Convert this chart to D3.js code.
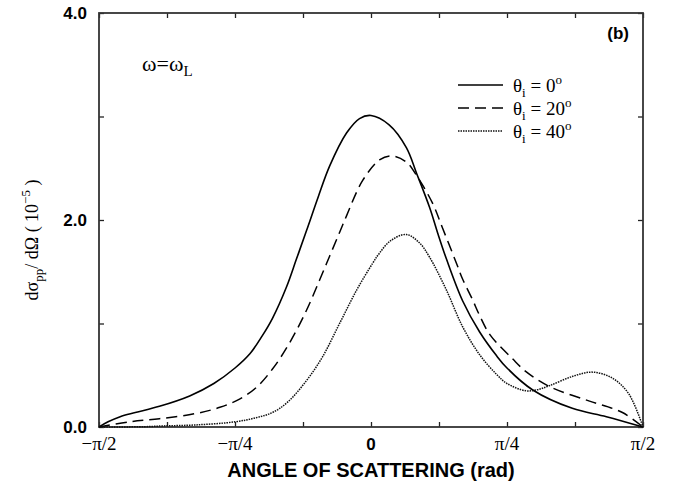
<!DOCTYPE html>
<html>
<head>
<meta charset="utf-8">
<script src="https://cdn.jsdelivr.net/npm/d3@7"></script>
<style>
  html, body { margin: 0; padding: 0; background: #fff; }
  svg { display: block; }
</style>
</head>
<body>
<svg id="chart" width="677" height="485"></svg>
<script>
// ---- data (angle in degrees, -90 = -π/2 ... 90 = π/2; value in units of 1e-5) ----
const series0Angles = [-90,-87,-83,-78,-70,-60,-52,-45,-40,-36,-32.6,-28,-24.7,-21.3,-17.5,-13.7,-8.1,-3.8,0,6,11.7,15.1,19.4,22,25,30.3,35.9,41.5,45,53.4,66.6,77.9,90];
const series0Values = [0,0.05,0.10,0.14,0.20,0.30,0.42,0.57,0.71,0.88,1.05,1.35,1.62,1.90,2.22,2.52,2.84,2.98,3.01,2.92,2.70,2.45,2.12,1.88,1.62,1.22,0.92,0.69,0.57,0.36,0.18,0.10,0];

const series20Angles = [-90,-80,-70,-58,-50,-43.5,-38,-32.6,-27,-21.3,-17,-13.7,-10.4,-8.1,-2.8,2.8,6.8,11.7,15.1,20.4,23.7,28.3,30.3,33.6,35.9,39.4,46.8,51.5,59.1,72.3,83.2,90];
const series20Values = [0,0.05,0.08,0.13,0.19,0.27,0.38,0.56,0.81,1.13,1.42,1.65,1.88,2.04,2.38,2.58,2.62,2.56,2.43,2.16,1.92,1.58,1.43,1.23,1.08,0.89,0.66,0.53,0.39,0.25,0.14,0];

const series40Angles = [-90,-75,-69,-58,-45,-38,-32.6,-27.6,-21.3,-16,-10.4,-4.8,0.5,2.8,6.5,11.7,16,19.4,25,30.3,35.9,41.5,45,51.2,55,59.1,66.8,73.4,80,85.3,90];
const series40Values = [0,0.003,0.01,0.02,0.05,0.09,0.14,0.24,0.45,0.68,1.0,1.32,1.58,1.68,1.80,1.86,1.78,1.64,1.32,0.97,0.70,0.51,0.42,0.35,0.36,0.40,0.49,0.53,0.47,0.32,0];

const seriesNames = ["0", "20", "40"];
const xTickValues = [-90, -45, 0, 45, 90];
const xTickLabels = ["\u2212\u03c0/2", "\u2212\u03c0/4", "0", "\u03c0/4", "\u03c0/2"];
const xMinorTicks = [-67.5, -22.5, 22.5, 67.5];
const yTickValues = [0, 2, 4];
const yTickLabels = ["0.0", "2.0", "4.0"];
const yMinorTicks = [1, 3];

// ---- drawing ----
const svg = d3.select("#chart");
const x = d3.scaleLinear().domain([-90, 90]).range([99, 643]);
const y = d3.scaleLinear().domain([0, 4]).range([427, 13]);

const allX = xTickValues.concat(xMinorTicks);
const allY = yTickValues.concat(yMinorTicks);

function styleAxis(g) {
  g.select(".domain").remove();
  g.selectAll(".tick line").attr("stroke", "#222").attr("stroke-width", 1.3);
  g.selectAll(".tick text").remove();
}
svg.append("g").attr("transform", `translate(0,${y(0)})`)
  .call(d3.axisBottom(x).tickValues(allX).tickSize(-5).tickFormat(""))
  .call(styleAxis);
svg.append("g").attr("transform", `translate(0,${y(4)})`)
  .call(d3.axisTop(x).tickValues(allX).tickSize(-5).tickFormat(""))
  .call(styleAxis);
svg.append("g").attr("transform", `translate(${x(-90)},0)`)
  .call(d3.axisLeft(y).tickValues(allY).tickSize(-5).tickFormat(""))
  .call(styleAxis);
svg.append("g").attr("transform", `translate(${x(90)},0)`)
  .call(d3.axisRight(y).tickValues(allY).tickSize(-5).tickFormat(""))
  .call(styleAxis);

// frame
svg.append("rect")
  .attr("x", x(-90)).attr("y", y(4))
  .attr("width", x(90) - x(-90)).attr("height", y(0) - y(4))
  .attr("fill", "none").attr("stroke", "#333").attr("stroke-width", 1.8);

// curves
const line = d3.line()
  .x(d => x(d[0])).y(d => y(d[1]))
  .curve(d3.curveCatmullRom.alpha(0.5));

const styles = [
  { dash: null, width: 1.6, color: "#000" },
  { dash: "11,6", width: 1.5, color: "#000" },
  { dash: "1.5,1", width: 1.5, color: "#111" }
];
const seriesData = [
  d3.zip(series0Angles, series0Values),
  d3.zip(series20Angles, series20Values),
  d3.zip(series40Angles, series40Values)
];
seriesData.forEach((d, i) => {
  svg.append("path")
    .datum(d)
    .attr("d", line)
    .attr("fill", "none")
    .attr("stroke", styles[i].color)
    .attr("stroke-width", styles[i].width)
    .attr("stroke-dasharray", styles[i].dash);
});

// y tick labels
svg.selectAll(".ylab").data(yTickValues).enter().append("text")
  .attr("x", 87).attr("y", d => y(d) + 6)
  .attr("text-anchor", "end")
  .attr("font-family", "'Liberation Sans', Arial, sans-serif")
  .attr("font-weight", "bold").attr("font-size", 17)
  .text((d, i) => yTickLabels[i]);

// x tick labels
svg.selectAll(".xlab").data(xTickValues).enter().append("text")
  .attr("x", d => x(d)).attr("y", 450)
  .attr("text-anchor", "middle")
  .attr("font-family", (d, i) => xTickLabels[i] === "0" ? "'Liberation Sans', Arial, sans-serif" : "'Liberation Serif', 'Times New Roman', serif")
  .attr("font-weight", (d, i) => xTickLabels[i] === "0" ? "bold" : "normal")
  .attr("font-size", (d, i) => xTickLabels[i] === "0" ? 17 : 19)
  .text((d, i) => xTickLabels[i]);

// x axis title
svg.append("text")
  .attr("x", 371).attr("y", 477)
  .attr("text-anchor", "middle")
  .attr("font-family", "'Liberation Sans', Arial, sans-serif")
  .attr("font-weight", "bold").attr("font-size", 20)
  .text("ANGLE OF SCATTERING (rad)");

// y axis title
const yt = svg.append("text")
  .attr("transform", "translate(38,240) rotate(-90)")
  .attr("text-anchor", "middle")
  .attr("font-family", "'Liberation Serif', 'Times New Roman', serif")
  .attr("font-size", 18);
yt.append("tspan").text("d\u03c3");
yt.append("tspan").attr("font-size", 13).attr("dy", 5).text("pp");
yt.append("tspan").attr("dy", -5).text("/ d\u03a9 ( 10");
yt.append("tspan").attr("font-size", 13).attr("dy", -8).text("\u22125");
yt.append("tspan").attr("dy", 8).text(" )");

// omega label
const om = svg.append("text")
  .attr("x", 142).attr("y", 71)
  .attr("font-family", "'Liberation Serif', 'Times New Roman', serif")
  .attr("font-size", 22);
om.append("tspan").text("\u03c9=\u03c9");
om.append("tspan").attr("font-size", 15).attr("dy", 5).text("L");

// panel label
svg.append("text")
  .attr("x", 629).attr("y", 39)
  .attr("text-anchor", "end")
  .attr("font-family", "'Liberation Sans', Arial, sans-serif")
  .attr("font-weight", "bold").attr("font-size", 17)
  .text("(b)");

// legend
const legendY = [85, 108, 131];
seriesNames.forEach((name, i) => {
  svg.append("line")
    .attr("x1", 458).attr("x2", 503)
    .attr("y1", legendY[i]).attr("y2", legendY[i])
    .attr("stroke", styles[i].color)
    .attr("stroke-width", styles[i].width)
    .attr("stroke-dasharray", styles[i].dash);
  const t = svg.append("text")
    .attr("x", 513).attr("y", legendY[i] + 7)
    .attr("font-family", "'Liberation Serif', 'Times New Roman', serif")
    .attr("font-size", 19);
  t.append("tspan").text("\u03b8");
  t.append("tspan").attr("font-size", 13).attr("dy", 5).text("i");
  t.append("tspan").attr("dy", -5).text(" = " + name);
  t.append("tspan").attr("font-size", 13).attr("dy", -8).text("o");
});
</script>
</body>
</html>
